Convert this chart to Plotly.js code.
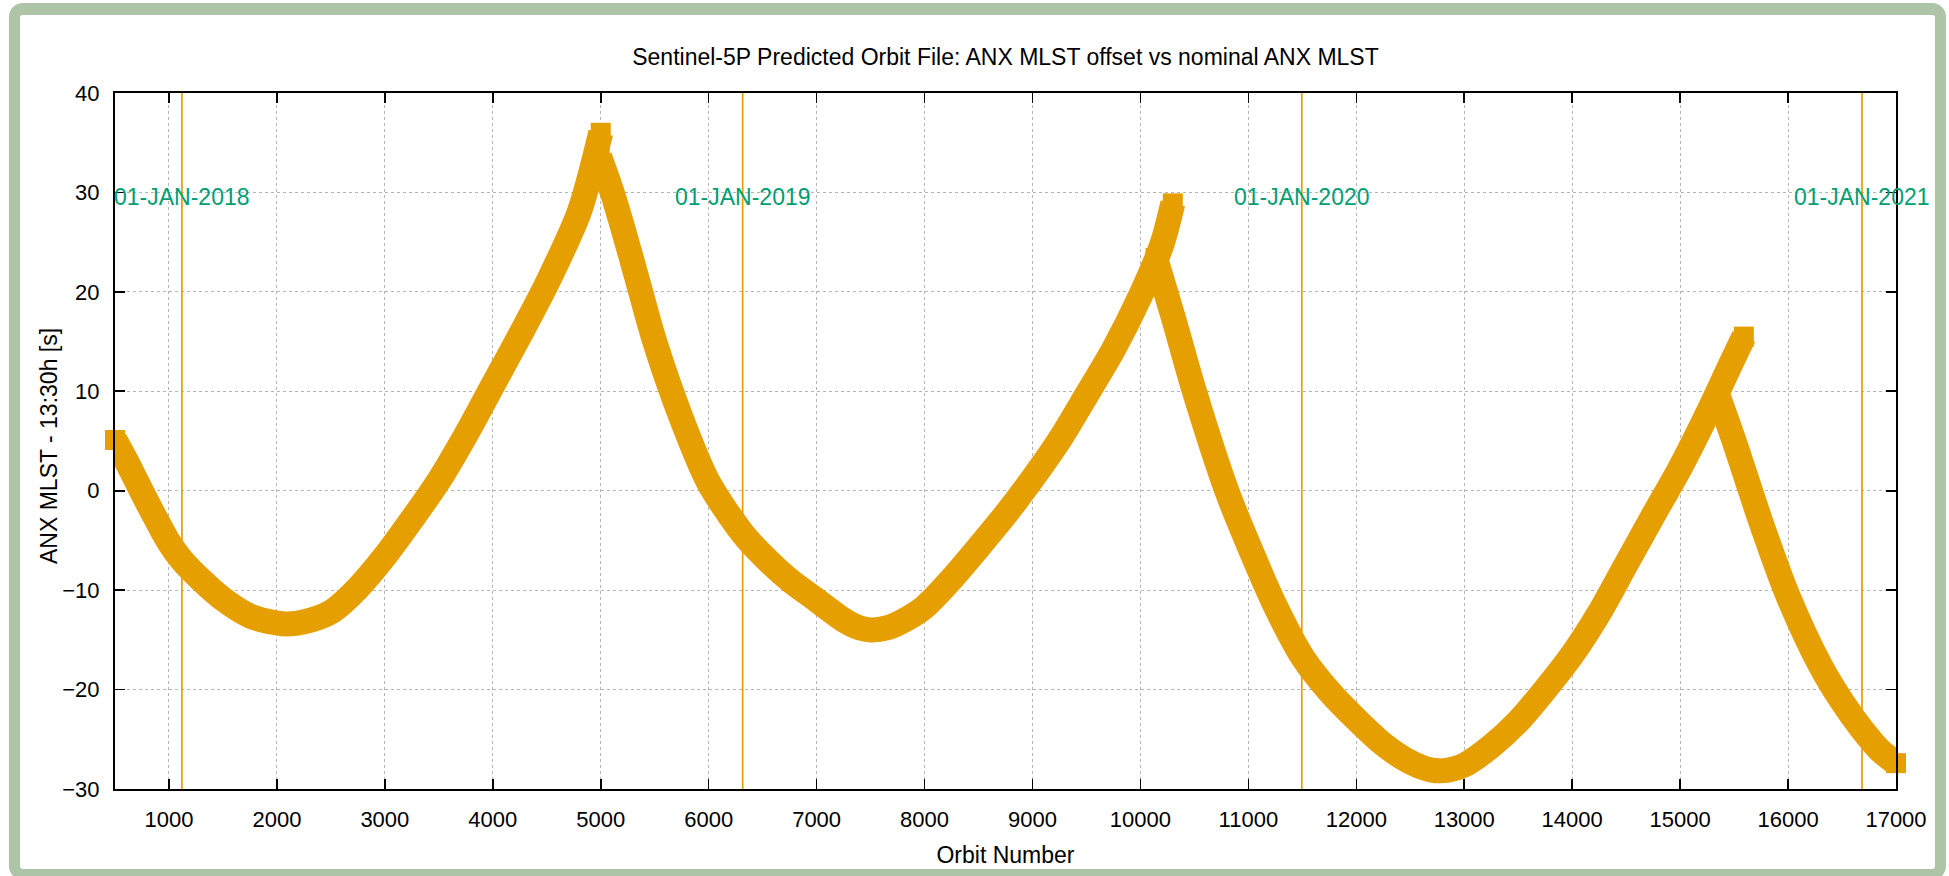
<!DOCTYPE html>
<html>
<head>
<meta charset="utf-8">
<script src="https://cdn.plot.ly/plotly-3.0.1.min.js"></script>
<style>
html,body{margin:0;padding:0;background:#ffffff;width:1949px;height:876px;overflow:hidden;}
#chart{position:absolute;left:0;top:0;width:1949px;height:876px;z-index:1;}
#frame{position:absolute;left:9px;top:3px;width:1937px;height:877px;box-sizing:border-box;border:11px solid #aec4a7;border-top-width:12px;border-radius:14px;pointer-events:none;z-index:2;}
</style>
</head>
<body>
<div id="chart"></div>
<div id="frame"></div>
<script>
// ---- data ----
const seg1Orbit  = [500, 600, 800, 1000, 1120, 1300, 1500, 1750, 2000, 2100, 2250, 2500, 2750, 3000, 3250, 3500, 3750, 4000, 4250, 4500, 4800, 5000];
const seg1Offset = [5.1, 3.1, -1.2, -5.2, -7.0, -9.0, -10.9, -12.6, -13.3, -13.4, -13.2, -12.2, -9.8, -6.6, -2.9, 1.0, 5.6, 10.6, 15.6, 20.8, 28.0, 36.0];

const seg2Orbit  = [4990, 5100, 5200, 5350, 5500, 5750, 6000, 6315, 6500, 6750, 7000, 7250, 7400, 7500, 7650, 7800, 8000, 8250, 8500, 8750, 9000, 9250, 9500, 9750, 10000, 10200, 10300];
const seg2Offset = [33.6, 30.2, 26.6, 20.8, 15.0, 7.2, 0.8, -4.3, -6.5, -9.0, -11.0, -13.0, -13.8, -14.0, -13.8, -13.1, -11.7, -8.9, -5.7, -2.4, 1.2, 5.1, 9.6, 14.2, 19.6, 24.8, 28.9];

const seg3Orbit  = [10140, 10300, 10500, 10800, 11000, 11250, 11500, 11750, 12000, 12250, 12500, 12700, 12850, 13000, 13250, 13500, 13750, 14000, 14250, 14500, 14750, 15000, 15300, 15450, 15590];
const seg3Offset = [23.4, 17.6, 10.0, 0.0, -5.4, -11.6, -16.7, -20.2, -23.0, -25.5, -27.3, -28.1, -28.1, -27.6, -25.7, -23.2, -20.0, -16.5, -12.3, -7.4, -2.5, 2.3, 8.8, 12.3, 15.5];

const seg4Orbit  = [15360, 15500, 15750, 16000, 16300, 16500, 16685, 16850, 17000];
const seg4Offset = [9.3, 5.0, -3.2, -10.6, -17.6, -21.2, -24.0, -26.1, -27.4];

const yearOrbits = [1120, 6315, 11495, 16685];
const yearLabels = ['01-JAN-2018', '01-JAN-2019', '01-JAN-2020', '01-JAN-2021'];
const yearLabelLevel = 29.5;

const xTicks = [1000, 2000, 3000, 4000, 5000, 6000, 7000, 8000, 9000, 10000, 11000, 12000, 13000, 14000, 15000, 16000, 17000];
const yTicks = [-30, -20, -10, 0, 10, 20, 30, 40];
const xRange = [500, 17000];
const yRange = [-30, 40];

// ---- styling ----
const ORANGE = '#e69f00';
const GREEN = '#009e73';
const FONT = 'Liberation Sans, Arial, Helvetica, sans-serif';

const segments = [[seg1Orbit, seg1Offset], [seg2Orbit, seg2Offset], [seg3Orbit, seg3Offset], [seg4Orbit, seg4Offset]];

const traces = segments.map(([xs, ys]) => ({
  type: 'scatter',
  mode: 'lines+markers',
  x: xs,
  y: ys,
  line: {color: ORANGE, width: 25, shape: 'spline', smoothing: 0.8},
  marker: {
    symbol: 'square',
    color: ORANGE,
    opacity: 1,
    size: xs.map((_, i) => (i === 0 || i === xs.length - 1) ? 20 : 0),
    line: {width: 0}
  },
  opacity: 1,
  cliponaxis: false,
  hoverinfo: 'skip',
  showlegend: false
}));

// vertical year lines
const vx = [], vy = [];
yearOrbits.forEach(o => { vx.push(o, o, null); vy.push(yRange[0], yRange[1], null); });
traces.push({
  type: 'scatter', mode: 'lines', x: vx, y: vy,
  line: {color: ORANGE, width: 1.7},
  hoverinfo: 'skip', showlegend: false
});

const annotations = yearOrbits.map((o, i) => ({
  x: o, y: yearLabelLevel, xref: 'x', yref: 'y',
  text: yearLabels[i], showarrow: false,
  xanchor: 'center', yanchor: 'middle',
  font: {family: FONT, size: 23, color: GREEN}
}));

// y-axis title placed as a rotated annotation for exact positioning
annotations.push({
  xref: 'paper', yref: 'paper', x: -0.037, y: 0.493,
  xanchor: 'center', yanchor: 'middle', textangle: -90,
  text: 'ANX MLST - 13:30h [s]', showarrow: false,
  font: {family: FONT, size: 23, color: '#000'}
});

const axisCommon = {
  showline: true, linecolor: '#000', linewidth: 2,
  mirror: 'ticks', ticks: 'inside', ticklen: 10, tickwidth: 1.6, tickcolor: '#000',
  showgrid: true, gridcolor: '#b5b5b5', griddash: 'dot', gridwidth: 1,
  zeroline: false, tickformat: 'd',
  tickfont: {family: FONT, size: 22, color: '#000'},
  automargin: false, fixedrange: true
};

const layout = {
  width: 1949, height: 876,
  margin: {l: 115, r: 53, t: 93, b: 87, pad: 0},
  paper_bgcolor: 'rgba(0,0,0,0)',
  plot_bgcolor: '#ffffff',
  title: {
    text: 'Sentinel-5P Predicted Orbit File: ANX MLST offset vs nominal ANX MLST',
    font: {family: FONT, size: 23, color: '#000'},
    xref: 'paper', x: 0.5, xanchor: 'center',
    yref: 'container', y: 1 - 57 / 876, yanchor: 'middle'
  },
  xaxis: Object.assign({}, axisCommon, {
    range: xRange, tickmode: 'array', tickvals: xTicks,
    ticklabelstandoff: 10,
    title: {text: 'Orbit Number', font: {family: FONT, size: 23, color: '#000'}, standoff: 15}
  }),
  yaxis: Object.assign({}, axisCommon, {
    range: yRange, tickmode: 'array', tickvals: yTicks,
    ticklabelstandoff: 9
  }),
  annotations: annotations,
  showlegend: false
};

Plotly.newPlot('chart', traces, layout, {displayModeBar: false, staticPlot: true});
</script>
</body>
</html>
